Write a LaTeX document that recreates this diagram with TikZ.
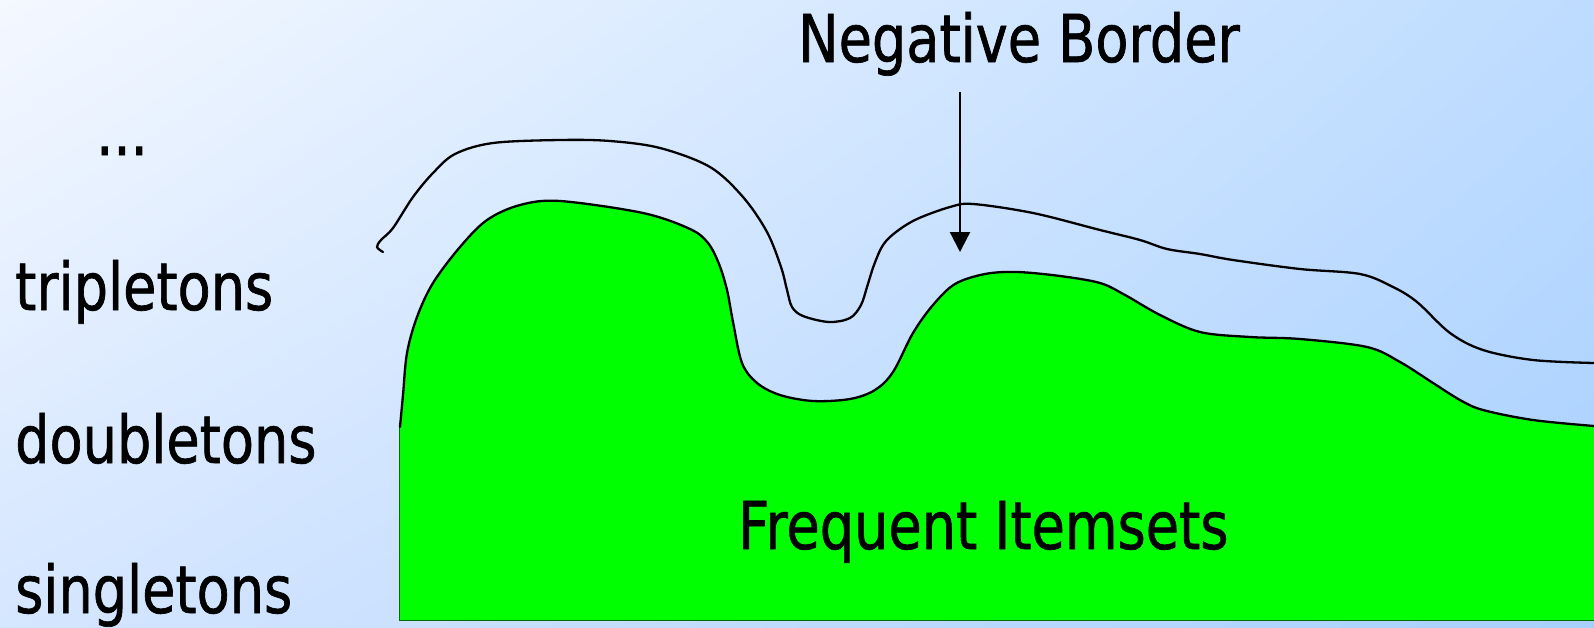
\documentclass[tikz,border=0pt]{standalone}
\usepackage{fontspec}
\setmainfont{DejaVu Sans}
\newfontfamily\lblfont{DejaVu Sans}[FakeStretch=0.82,FakeBold=1.0]
\usetikzlibrary{arrows.meta,shadings}

\definecolor{bgul}{RGB}{244,248,255}
\definecolor{bgur}{RGB}{190,220,255}
\definecolor{bgll}{RGB}{213,230,255}
\definecolor{bglr}{RGB}{168,208,255}
\definecolor{freqgreen}{RGB}{0,255,0}
\definecolor{edgegreen}{RGB}{0,110,0}

\begin{document}
\begin{tikzpicture}[x=1pt, y=-1pt,
  labeltext/.style={font=\lblfont\fontsize{66}{74}\selectfont, inner sep=0pt, anchor=base west},
  outline/.style={line width=2.3pt, black, line join=round, line cap=round},
  pointer/.style={line width=2.3pt, -{Triangle[width=20pt,length=20pt]}}]

\useasboundingbox (0,0) rectangle (1594,627);

% gradient backdrop
\shade[upper left=bgul, upper right=bgur, lower left=bgll, lower right=bglr]
  (0,0) rectangle (1594,627);

% outline of the frequent itemsets region
\def\freqtop{plot[smooth, tension=0.55] coordinates {
    (400,427) (403,395) (407,353) (417,317) (433,283) (460,247) (487,220)
    (520,205) (560,201) (643,213) (690,229) (708,243) (719,264) (727,290)
    (733,322) (742,363) (757,383) (780,395) (813,401) (850,399) (875,390)
    (893,372) (913,333) (933,305) (955,284) (985,274) (1017,272) (1060,276)
    (1100,283) (1125,295) (1160,315) (1200,332) (1250,337) (1300,339)
    (1367,347) (1400,362) (1433,383) (1460,400) (1483,410) (1533,420) (1594,426)}}

% frequent itemsets region
\fill[freqgreen] \freqtop -- (1594,620) -- (399,620) -- cycle;
\draw[edgegreen, line width=1pt] (1594,620) -- (399,620) -- (399,427);
\draw[outline] \freqtop;

% negative border curve
\draw[outline]
  plot[smooth, tension=0.55] coordinates {
    (383,252) (377,247) (381,240) (393,228) (413,197) (433,173) (455,154)
    (493,143) (560,140) (610,141) (660,148) (710,167) (743,197) (767,232)
    (781,267) (787,290) (792,307) (803,316) (829,322) (850,318) (861,305)
    (867,287) (874,265) (883,245) (896,232) (917,219) (950,207) (973,204)
    (1033,213) (1100,230) (1140,240) (1167,249) (1200,254) (1233,260)
    (1300,269) (1360,274) (1393,287) (1417,302) (1450,333) (1483,350)
    (1533,360) (1594,363)};

% labels
\node[labeltext] (dots) at (96,155) {...};
\node[labeltext] (trip) at (15,310) {tripletons};
\node[labeltext] (doub) at (15,463) {doubletons};
\node[labeltext] (sing) at (15,613) {singletons};
\node[labeltext] (negb) at (798,62) {Negative Border};
\node[labeltext] (freq) at (738,549) {Frequent Itemsets};

% pointer to the negative border
\coordinate (arrtop) at (960,92);
\coordinate (arrtip) at (960,252);
\draw[pointer] (arrtop) -- (arrtip);
\end{tikzpicture}
\end{document}
